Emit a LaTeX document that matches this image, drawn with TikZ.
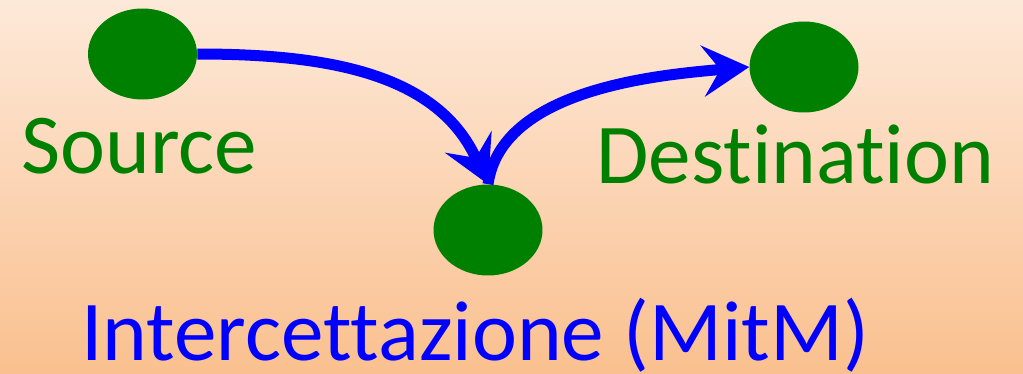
\documentclass[tikz,border=0pt]{standalone}
\usepackage{fontspec}
\setmainfont{Carlito}[Ligatures={NoCommon}]
\usetikzlibrary{arrows.meta,shapes.geometric}
\definecolor{peachtop}{HTML}{FDE9D9}
\definecolor{peachbot}{HTML}{FAC08F}
\definecolor{hostgreen}{HTML}{008000}
\definecolor{flowblue}{HTML}{0000FF}
\tikzset{
  host/.style={ellipse,fill=hostgreen,draw=none,minimum width=2.18cm,minimum height=1.82cm,inner sep=0pt},
  flow/.style={draw=flowblue,line width=0.22cm,
    -{Stealth[length=0.94cm,width=1.04cm,inset=0.36cm,line width=0pt]}},
  tag/.style={anchor=base west,inner sep=0pt}
}
\begin{document}
\begin{tikzpicture}[x=0.02cm,y=0.02cm,font=\fontsize{48.5pt}{58pt}\selectfont]
  \shade[top color=peachtop,bottom color=peachbot] (0,0) rectangle (1023,373);
  \useasboundingbox (0,0) rectangle (1023,373);
  \node[host] (src) at (142.5,319) {};
  \node[host] (mitm) at (488,143) {};
  \node[host] (dst) at (804,306) {};
  \node[tag,text=hostgreen] (srclab) at (21,200) {Source};
  \node[tag,text=hostgreen] (dstlab) at (596,190) {Destination};
  \node[tag,text=flowblue] (mitmlab) at (81,13) {Intercettazione (MitM)};
  \draw[flow] (src.east) to[out=0,in=115] (mitm.north);
  \draw[flow] (mitm.north) to[out=82,in=185,looseness=0.85] (dst.west);
\end{tikzpicture}
\end{document}
